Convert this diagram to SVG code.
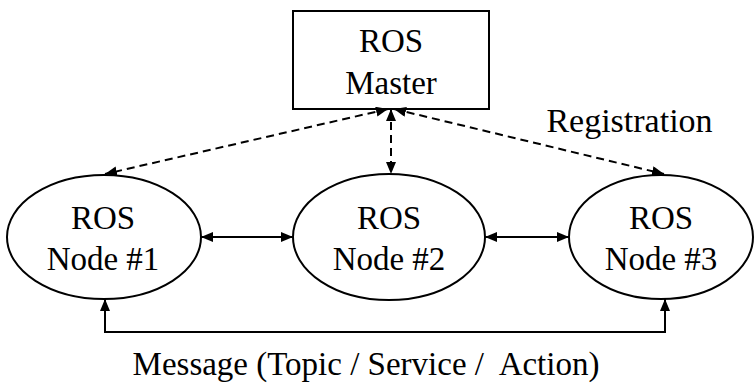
<svg xmlns="http://www.w3.org/2000/svg" width="755" height="383" viewBox="0 0 755 383">
  <defs>
    <marker id="arrow" viewBox="0 0 12 10" refX="12" refY="5" markerWidth="12" markerHeight="10" markerUnits="userSpaceOnUse" orient="auto-start-reverse">
      <path d="M0,0 L12,5 L0,10 z" fill="#000"/>
    </marker>
    <style>
      .shape { fill: #fff; stroke: #000; stroke-width: 2; }
      .label { font-family: "Liberation Serif", "Times New Roman", serif; font-size: 33px; fill: #000; text-anchor: middle; }
      .link { fill: none; stroke: #000; stroke-width: 2; }
      .dash { stroke-dasharray: 8 5; }
    </style>
  </defs>

  <g id="master">
    <rect class="shape" x="293" y="11" width="196" height="98"/>
    <text class="label" x="391" y="52">ROS</text>
    <text class="label" x="391" y="94">Master</text>
  </g>

  <g id="node1">
    <ellipse class="shape" cx="104" cy="237" rx="97" ry="62"/>
    <text class="label" x="103" y="229">ROS</text>
    <text class="label" x="103" y="270">Node #1</text>
  </g>

  <g id="node2">
    <ellipse class="shape" cx="389" cy="237" rx="96" ry="63"/>
    <text class="label" x="389" y="229">ROS</text>
    <text class="label" x="389" y="270">Node #2</text>
  </g>

  <g id="node3">
    <ellipse class="shape" cx="661" cy="237" rx="92" ry="62"/>
    <text class="label" x="661" y="229">ROS</text>
    <text class="label" x="661" y="270">Node #3</text>
  </g>

  <g id="connectors">
    <!-- registration links to the master -->
    <line class="link dash" x1="388" y1="109" x2="105" y2="174" marker-start="url(#arrow)" marker-end="url(#arrow)"/>
    <line class="link dash" x1="391" y1="109" x2="391" y2="174" marker-start="url(#arrow)" marker-end="url(#arrow)"/>
    <line class="link dash" x1="394" y1="109" x2="664" y2="174" marker-start="url(#arrow)" marker-end="url(#arrow)"/>
    <!-- peer-to-peer messaging -->
    <line class="link" x1="201" y1="237" x2="293" y2="237" marker-start="url(#arrow)" marker-end="url(#arrow)"/>
    <line class="link" x1="485" y1="237" x2="569" y2="237" marker-start="url(#arrow)" marker-end="url(#arrow)"/>
    <polyline class="link" points="105,299 105,332 665,332 665,299" marker-start="url(#arrow)" marker-end="url(#arrow)"/>
    <text class="label" x="629.5" y="132" style="font-size:34px">Registration</text>
    <text class="label" x="366" y="375" style="font-size:33px" xml:space="preserve">Message (Topic / Service /  Action)</text>
  </g>
</svg>
